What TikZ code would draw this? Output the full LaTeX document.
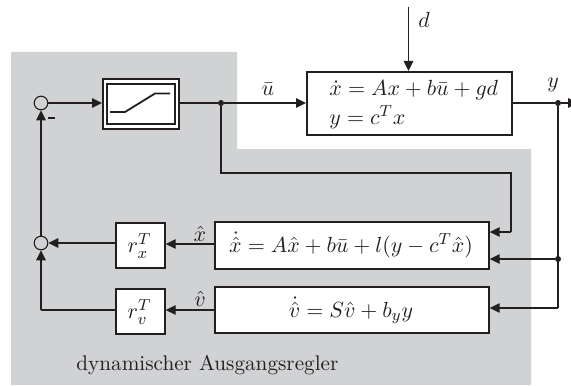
\documentclass[tikz,border=0pt]{standalone}
\usepackage{amsmath}
\usetikzlibrary{arrows.meta,calc}
\definecolor{panelgrey}{RGB}{208,210,212}
\definecolor{ink}{RGB}{35,31,32}
\tikzset{
  x=0.5pt,y=-0.5pt,
  every node/.style={font=\fontsize{10.9}{13}\selectfont,text=ink},
  line/.style={draw=ink,line width=0.6pt},
  conn/.style={line,-{Triangle[length=5pt,width=4.8pt]}},
  blockbox/.style={draw=ink,line width=0.85pt,fill=white,inner sep=0pt,anchor=north west},
  sumnode/.style={circle,draw=ink,line width=0.55pt,fill=none,minimum size=6.8pt,inner sep=0pt},
  dotnode/.style={circle,fill=ink,minimum size=3pt,inner sep=0pt},
  lab/.style={inner sep=0pt}
}
\begin{document}
\begin{tikzpicture}
\useasboundingbox (0,0) rectangle (571,385);
\fill[panelgrey] (11,52) -- (237,52) -- (237,149) -- (531,149) -- (531,385) -- (11,385) -- cycle;

\node[blockbox,minimum width=38pt,minimum height=25pt] (sat) at (102,78) {};
\node[draw=ink,line width=0.85pt,inner sep=0pt,minimum width=34pt,minimum height=20pt] (satin) at (sat.center) {};
\draw[draw=ink,line width=0.9pt] (110,112) -- (125,112) -- (155,93.5) -- (170,93.5);

\node[blockbox,minimum width=102.5pt,minimum height=31.5pt] (plant) at (306,71) {};
\node[lab,anchor=base west] at (329,95) {$\dot{x}=Ax+b\bar{u}+gd$};
\node[lab,anchor=base west] at (329,124) {$y=c^Tx$};

\node[blockbox,minimum width=137pt,minimum height=23.5pt] (obs) at (214,221) {};
\node[lab] at (351,245) {$\dot{\hat{x}}=A\hat{x}+b\bar{u}+l(y-c^T\hat{x})$};
\node[blockbox,minimum width=137pt,minimum height=23pt] (dyn) at (214,286) {};
\node[lab] at (351,310) {$\dot{\hat{v}}=S\hat{v}+b_yy$};

\node[blockbox,minimum width=24.5pt,minimum height=22.5pt] (rx) at (115,222) {};
\node[lab] at (139.5,246) {$r_x^T$};
\node[blockbox,minimum width=24.5pt,minimum height=22.5pt] (rv) at (115,288) {};
\node[lab] at (139.5,312) {$r_v^T$};

\node[sumnode] (s1) at (41,103) {};
\node[sumnode] (s2) at (41,243) {};
\node[dotnode] (ju) at (221,103) {};
\node[dotnode] (jy) at (558,103) {};
\node[dotnode] (jb) at (558,259) {};

\coordinate (dtop) at (408.5,7);
\coordinate (yend) at (578,103);
\coordinate (c1) at (221,173);
\coordinate (c2) at (511,173);
\coordinate (c3) at (511,232);
\coordinate (c4) at (558,308);
\coordinate (c5) at (41,310);
\coordinate (hx) at (0,244);
\coordinate (hv) at (0,310);

\draw[conn] (s1) -- (sat.west |- s1);
\draw[line] (sat.east |- ju) -- (ju);
\draw[conn] (ju) -- (plant.west |- ju);
\draw[conn] (dtop) -- (dtop |- plant.north);
\draw[line] (plant.east |- jy) -- (jy);
\draw[conn] (jy) -- (yend);
\draw[line] (ju) -- (c1) -- (c2) -- (c3);
\draw[conn] (c3) -- (obs.east |- c3);
\draw[line] (jy) -- (c4);
\draw[conn] (jb) -- (obs.east |- jb);
\draw[conn] (c4) -- (dyn.east |- c4);
\draw[conn] (obs.west |- hx) -- (rx.east |- hx);
\draw[conn] (dyn.west |- hv) -- (rv.east |- hv);
\draw[conn] (rx.west |- s2) -- (s2);
\draw[line] (rv.west |- c5) -- (c5);
\draw[conn] (c5) -- (s2);
\draw[conn] (s2) -- (s1);
\draw[draw=ink,line width=0.9pt] (48,118) -- (55,118);

\node[lab] at (268,89) {$\bar{u}$};
\node[lab] at (553,85) {$y$};
\node[lab] at (424,20) {$d$};
\node[lab] at (200,234) {$\hat{x}$};
\node[lab] at (200,299) {$\hat{v}$};
\node[lab,anchor=base west,font=\fontsize{10.6}{13}\selectfont] at (76,370) {dynamischer Ausgangsregler};
\end{tikzpicture}
\end{document}
